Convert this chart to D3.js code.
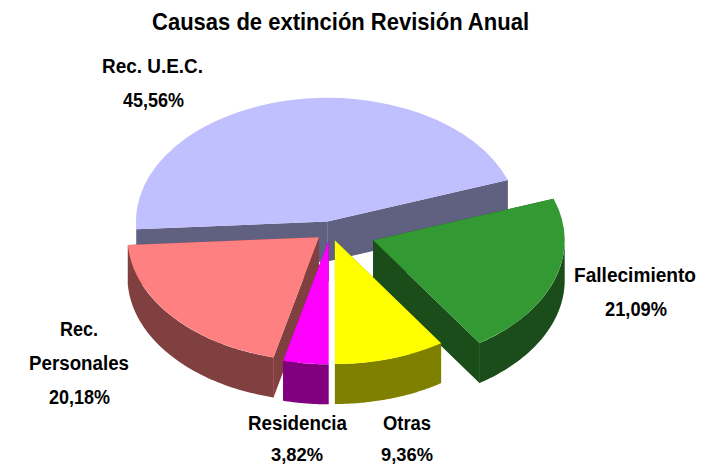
<!DOCTYPE html>
<html>
<head>
<meta charset="utf-8">
<script src="https://cdn.jsdelivr.net/npm/d3@7"></script>
<style>
  html, body { margin: 0; padding: 0; background: #fff; }
  svg { display: block; }
  text { font-family: "Liberation Sans", Arial, sans-serif; font-weight: bold; fill: #000; }
</style>
</head>
<body>
<div id="chart"></div>
<script>
/*
** Data, in the order the slices run round the pie
*/
var categories = ["Otras", "Fallecimiento", "Rec. U.E.C.", "Rec. Personales", "Residencia"];
var shares = [9.36, 21.09, 45.56, 20.18, 3.82];
var explode = [15, 45, 15, 15, 15];
var topColors = ["#ffff00", "#339933", "#c0c0ff", "#ff8080", "#ff00ff"];
var sideColors = ["#808000", "#1a4d1a", "#606080", "#804040", "#800080"];
var labelLines = [["Otras"], ["Fallecimiento"], ["Rec. U.E.C."], ["Rec.", "Personales"], ["Residencia"]];

// label layout: centre of each line, baseline of each line, width of each line
var labelX = [[407, 407], [635, 636], [152.5, 153.5], [79, 79, 79.5], [297.5, 297]];
var labelY = [[430, 461], [282, 316], [73, 107], [336, 370, 404], [430, 461]];
var labelWidths = [[48, 52], [122, 62], [101, 61], [38, 100, 61], [99, 52]];

var width = 715
  , height = 466
  , cx = 330.5
  , cy = 231
  , radius = 191.5
  , squash = 0.646
  , depth = 40
;

var svg = d3.select("#chart").append("svg")
    .attr("width", width)
    .attr("height", height)
;

svg.append("text")
    .attr("x", 340.5)
    .attr("y", 30)
    .attr("text-anchor", "middle")
    .attr("textLength", 377)
    .attr("lengthAdjust", "spacingAndGlyphs")
    .style("font-size", "24px")
    .text("Causas de extinción Revisión Anual")
;

/*
** Slices: counter-clockwise on screen, starting straight down
*/
var pie = d3.pie().sort(null).startAngle(Math.PI).endAngle(-Math.PI);
var arc = d3.arc().innerRadius(0).outerRadius(radius);

var slices = pie(shares).map(function(d, i) {
    var mid = (d.startAngle + d.endAngle) / 2;
    d.index = i;
    d.mid = mid;
    d.dx = explode[i] * Math.sin(mid);
    d.dy = -explode[i] * Math.cos(mid) * squash;
    return d;
  })
;

// back to front
var drawOrder = slices.slice().sort(function(a, b) {
    return Math.cos(b.mid) - Math.cos(a.mid);
  })
;

function edge(a) {
    return [radius * Math.sin(a), -radius * Math.cos(a) * squash];
}

// the part of the rim that faces the viewer
function frontAngles(d) {
    var angles = d3.range(0, 61).map(function(i) {
        return d.startAngle + (d.endAngle - d.startAngle) * i / 60;
      })
    ;
    return angles.filter(function(a) { return Math.cos(a) <= 0.001; });
}

// corners where two visible walls meet
function seams(d) {
    var startFront = Math.sin(d.startAngle) > 0.001
      , endFront = Math.sin(d.endAngle) < -0.001
      , found = []
    ;
    if(startFront && endFront) found.push([0, 0]);
    if(startFront && Math.cos(d.startAngle) < -0.2) found.push(edge(d.startAngle));
    if(endFront && Math.cos(d.endAngle) < -0.2) found.push(edge(d.endAngle));
    return found;
}

var rim = d3.area()
    .x(function(a) { return edge(a)[0]; })
    .y0(function(a) { return edge(a)[1]; })
    .y1(function(a) { return edge(a)[1] + depth; })
;
var wall = d3.line();

var slice = svg.selectAll("g.slice")
    .data(drawOrder)
  .enter().append("g")
    .attr("class", "slice")
    .attr("transform", function(d) {
        return "translate(" + (cx + d.dx) + "," + (cy + d.dy) + ")";
      })
;

slice.each(function(d) {
    var self = d3.select(this);
    var side = sideColors[d.index];

    [d.startAngle, d.endAngle].forEach(function(a) {
        var p = edge(a);
        self.append("path")
            .attr("d", wall([[0, 0], p, [p[0], p[1] + depth], [0, depth]]) + "Z")
            .attr("fill", side)
        ;
    });

    self.append("path")
        .attr("d", rim(frontAngles(d)))
        .attr("fill", side)
    ;

    seams(d).forEach(function(p) {
        self.append("line")
            .attr("x1", p[0])
            .attr("x2", p[0])
            .attr("y1", p[1])
            .attr("y2", p[1] + depth)
            .attr("stroke", d3.color(side).brighter(0.6))
            .attr("stroke-width", 1)
        ;
    });

    self.append("path")
        .attr("d", arc(d))
        .attr("transform", "scale(1," + squash + ")")
        .attr("fill", topColors[d.index])
    ;
});

/*
** Labels
*/
var label = svg.selectAll("g.label")
    .data(slices)
  .enter().append("g")
    .attr("class", "label")
;

label.each(function(d) {
    var self = d3.select(this);
    var lines = labelLines[d.index].concat(shares[d.index].toFixed(2).replace(".", ",") + "%");

    lines.forEach(function(t, j) {
        self.append("text")
            .attr("x", labelX[d.index][j])
            .attr("y", labelY[d.index][j])
            .attr("text-anchor", "middle")
            .attr("textLength", labelWidths[d.index][j])
            .attr("lengthAdjust", "spacingAndGlyphs")
            .style("font-size", j === lines.length - 1 && labelY[d.index][j] > 440 ? "19px" : "20px")
            .text(t)
        ;
    });
});
</script>
</body>
</html>
